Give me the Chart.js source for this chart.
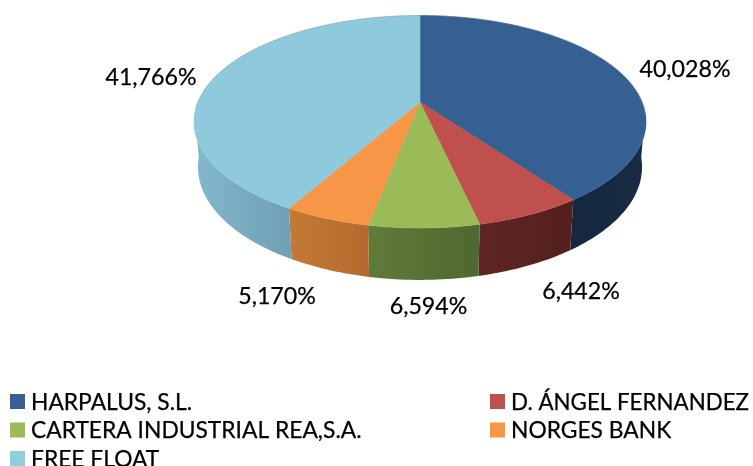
<!DOCTYPE html>
<html>
<head>
<meta charset="utf-8">
<title>Accionariado</title>
<script src="https://cdn.jsdelivr.net/npm/chart.js@4/dist/chart.umd.min.js"></script>
<style>
  html, body { margin: 0; padding: 0; background: #fff; }
  canvas { display: block; }
</style>
</head>
<body>
<canvas id="pie" width="753" height="466"></canvas>
<script>
'use strict';
const categories = ['HARPALUS, S.L.', 'D. ÁNGEL FERNANDEZ', 'CARTERA INDUSTRIAL REA,S.A.', 'NORGES BANK', 'FREE FLOAT'];
const shares = [40.028, 6.442, 6.594, 5.170, 41.766];
const shareLabels = ['40,028%', '6,442%', '6,594%', '5,170%', '41,766%'];

const topColors = ['#376092', '#c0504d', '#9bbb59', '#f79646', '#8fc9dc'];
const wallLeft = ['#14273f', '#5e2523', '#607b39', '#c47a36', '#84b8cc'];
const wallRight = ['#182c46', '#53201e', '#4f682f', '#b46a2c', '#6fa0b6'];
const legendColors = ['#376092', '#c0504d', '#9bbb59', '#f79646', '#92cddd'];

// where the value labels sit, centre of the text
const labelX = [685, 581, 428.5, 277, 151];
const labelY = [70, 292, 307, 297, 78];

// camera for the tilted pie
const apexX = 420, apexY = 102;
const radiusX = 222, tiltY = 83.6, persp = 0.186;
const dropY = 47, dropW = 0.017;
const tangent = 0.1; // rim angle where the wall silhouette leaves the top

const labelFont = '23.2px Lato, Carlito, sans-serif';
const legendFont = '22.8px Lato, Carlito, sans-serif';
const legendWidths = [335, 238];

function project(angle, low) {
    let u = Math.cos(angle);
    let v = Math.sin(angle);
    let w = 1 - persp * v + (low ? dropW : 0);
    return {
        x: apexX + radiusX * u / w,
        y: (apexY + tiltY * v + (low ? dropY : 0)) / w
    };
}

function rim(ctx, from, to, low, first) {
    let steps = Math.max(2, Math.ceil(Math.abs(to - from) / 0.02));
    for (let i = 0; i <= steps; i++) {
        let p = project(from + (to - from) * i / steps, low);
        if (i === 0 && first) ctx.moveTo(p.x, p.y);
        else ctx.lineTo(p.x, p.y);
    }
}

const tiltedPie = {
    id: 'tiltedPie',
    beforeDatasetDraw(chart) {
        let ctx = chart.ctx;
        let arcs = chart.getDatasetMeta(0).data;
        ctx.save();
        // side wall first, only the part facing the viewer
        arcs.forEach(function (arc, i) {
            let from = Math.max(arc.startAngle, tangent);
            let to = Math.min(arc.endAngle, Math.PI - tangent);
            let a = project(from, false);
            let b = project(to, false);
            let g = ctx.createLinearGradient(Math.min(a.x, b.x), 0, Math.max(a.x, b.x), 0);
            g.addColorStop(0, wallLeft[i]);
            g.addColorStop(1, wallRight[i]);
            ctx.fillStyle = g;
            ctx.beginPath();
            rim(ctx, from, to, false, true);
            rim(ctx, to, from, true, false);
            ctx.closePath();
            ctx.fill();
        });
        arcs.forEach(function (arc, i) {
            ctx.fillStyle = topColors[i];
            ctx.strokeStyle = topColors[i];
            ctx.lineWidth = 0.6;
            ctx.beginPath();
            ctx.moveTo(apexX, apexY);
            rim(ctx, arc.startAngle, arc.endAngle, false, false);
            ctx.closePath();
            ctx.fill();
            ctx.stroke();
        });
        // faint grey edge round the top
        ctx.strokeStyle = 'rgba(110,125,135,0.3)';
        ctx.lineWidth = 1;
        ctx.beginPath();
        rim(ctx, Math.PI * 0.98, Math.PI * 2.02, false, true);
        ctx.stroke();
        ctx.restore();
        return false;
    },
    afterDraw(chart) {
        let ctx = chart.ctx;
        ctx.save();
        ctx.font = labelFont;
        ctx.fillStyle = '#000';
        ctx.strokeStyle = '#000';
        ctx.lineWidth = 0.25;
        ctx.textBaseline = 'middle';
        ctx.textAlign = 'center';
        shareLabels.forEach(function (text, i) {
            ctx.fillText(text, labelX[i], labelY[i]);
            ctx.strokeText(text, labelX[i], labelY[i]);
        });
        ctx.textAlign = 'left';
        ctx.font = legendFont;
        // two column legend, filled row by row
        chart.data.labels.forEach(function (name, i) {
            let col = i % 2;
            let row = Math.floor(i / 2);
            let x = col === 0 ? 10 : 490;
            let y = 394 + row * 28.5;
            ctx.fillStyle = legendColors[i];
            ctx.fillRect(x, y, 15, 15);
            ctx.fillStyle = '#000';
            ctx.fillText(name, x + 21, y + 8.5, legendWidths[col]);
            ctx.strokeText(name, x + 21, y + 8.5, legendWidths[col]);
        });
        ctx.restore();
    }
};

new Chart(document.getElementById('pie'), {
    type: 'pie',
    data: {
        labels: categories,
        datasets: [{ data: shares, backgroundColor: topColors, borderWidth: 0 }]
    },
    options: {
        responsive: false,
        animation: false,
        plugins: { legend: { display: false }, tooltip: { enabled: false } }
    },
    plugins: [tiltedPie]
});
</script>
</body>
</html>
